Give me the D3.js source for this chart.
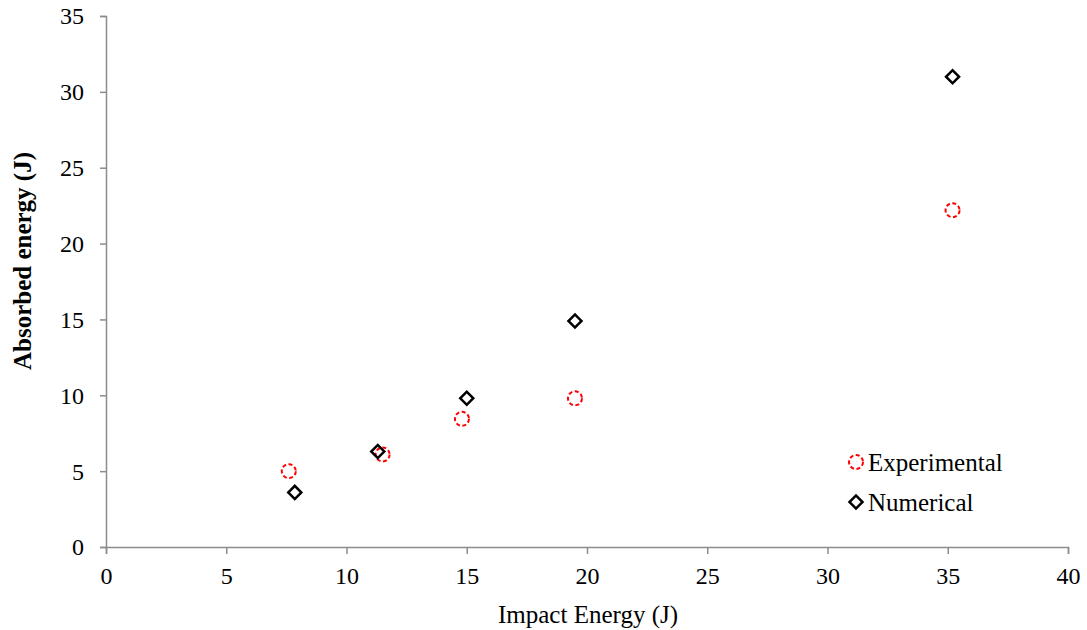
<!DOCTYPE html>
<html>
<head>
<meta charset="utf-8">
<script src="https://cdn.jsdelivr.net/npm/d3@7"></script>
<style>
  body { margin: 0; background: #fff; }
  text { font-family: "Liberation Serif", "Times New Roman", serif; fill: #000; }
</style>
</head>
<body>
<script>
// data
var expX = [7.6, 11.5, 14.8, 19.5, 35.2];
var expY = [5.0, 6.1, 8.45, 9.8, 22.2];
var numX = [7.85, 11.3, 15.0, 19.5, 35.2];
var numY = [3.6, 6.3, 9.8, 14.9, 31.0];
var xTicks = [0, 5, 10, 15, 20, 25, 30, 35, 40];
var yTicks = [0, 5, 10, 15, 20, 25, 30, 35];

var W = 1087, H = 630;
var margin = {top: 16, right: 19, bottom: 83, left: 106};

var svg = d3.select("body").append("svg")
    .attr("width", W)
    .attr("height", H);

var x = d3.scaleLinear().domain([0, 40]).range([margin.left, W - margin.right]);
var y = d3.scaleLinear().domain([0, 35]).range([H - margin.bottom, margin.top]);

var xAxis = svg.append("g")
    .attr("transform", "translate(0," + y(0) + ")")
    .call(d3.axisBottom(x).tickValues(xTicks).tickSize(7).tickPadding(10));
var yAxis = svg.append("g")
    .attr("transform", "translate(" + x(0) + ",0)")
    .call(d3.axisLeft(y).tickValues(yTicks).tickSize(6).tickPadding(16));

[xAxis, yAxis].forEach(function(a) {
  a.select(".domain").attr("stroke", "#8c8c8c").attr("stroke-width", 1.5);
  a.selectAll(".tick line").attr("stroke", "#8c8c8c").attr("stroke-width", 1.5);
  a.selectAll("text").style("font-size", "24px").attr("fill", "#000");
});
xAxis.selectAll("text").attr("dy", "0.85em");
yAxis.selectAll("text").attr("dy", "0.33em");

svg.append("text")
    .attr("x", (x(0) + x(40)) / 2 + 1)
    .attr("y", 623)
    .attr("text-anchor", "middle")
    .style("font-size", "25px")
    .text("Impact Energy (J)");

svg.append("text")
    .attr("transform", "translate(31,261) rotate(-90)")
    .attr("text-anchor", "middle")
    .style("font-size", "25px")
    .style("font-weight", "bold")
    .text("Absorbed energy (J)");

var diamond = d3.symbol().type(d3.symbolSquare).size(85);

function drawExp(sel) {
  sel.append("circle")
    .attr("r", 7)
    .attr("fill", "none")
    .attr("stroke", "#ff0000")
    .attr("stroke-width", 2)
    .attr("stroke-dasharray", "4,2.5");
}
function drawNum(sel) {
  sel.append("path")
    .attr("d", diamond)
    .attr("transform", "rotate(45)")
    .attr("fill", "none")
    .attr("stroke", "#000")
    .attr("stroke-width", 2.5);
}

var expData = expX.map(function(v, i) { return [v, expY[i]]; });
var numData = numX.map(function(v, i) { return [v, numY[i]]; });

svg.selectAll(".exp")
  .data(expData)
  .enter().append("g")
    .attr("class", "exp")
    .attr("transform", function(d) { return "translate(" + x(d[0]) + "," + y(d[1]) + ")"; })
    .call(drawExp);

svg.selectAll(".num")
  .data(numData)
  .enter().append("g")
    .attr("class", "num")
    .attr("transform", function(d) { return "translate(" + x(d[0]) + "," + y(d[1]) + ")"; })
    .call(drawNum);

// legend
var leg = svg.append("g").attr("transform", "translate(856,462)");
leg.append("g").call(drawExp);
leg.append("text").attr("x", 12).attr("y", 9).style("font-size", "25px").text("Experimental");
var leg2 = svg.append("g").attr("transform", "translate(856,502)");
leg2.append("g").call(drawNum);
leg2.append("text").attr("x", 12).attr("y", 9).style("font-size", "25px").text("Numerical");
</script>
</body>
</html>
